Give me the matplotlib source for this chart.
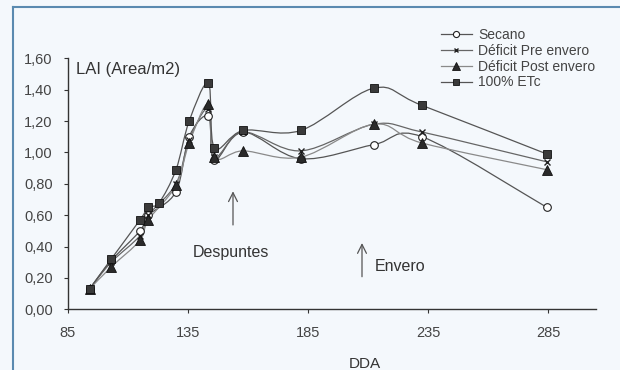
import matplotlib
matplotlib.use("Agg")
import matplotlib.pyplot as plt
from matplotlib.path import Path
from matplotlib.patches import PathPatch
from matplotlib.lines import Line2D
import numpy as np

plt.rcParams['font.family'] = ['Liberation Sans', 'DejaVu Sans']

# ---- data ----
dda = [94, 103, 115, 118.5, 123, 130, 135.5, 143.5, 146, 158, 182, 212.5, 232.5, 284.5]
secano = [0.13, 0.31, 0.50, 0.60, None, 0.75, 1.10, 1.23, 0.95, 1.13, 0.96, 1.05, 1.10, 0.65]
deficit_pre = [0.13, 0.30, 0.47, 0.60, None, 0.80, 1.08, 1.28, 0.97, 1.13, 1.01, 1.18, 1.13, 0.94]
deficit_post = [0.13, 0.27, 0.44, 0.57, None, 0.79, 1.06, 1.31, 0.97, 1.01, 0.97, 1.18, 1.06, 0.89]
etc100 = [0.13, 0.32, 0.57, 0.65, 0.68, 0.89, 1.20, 1.44, 1.03, 1.14, 1.14, 1.41, 1.30, 0.99]
series_names = ["Secano", "Déficit Pre envero", "Déficit Post envero", "100% ETc"]
x_ticks = [85, 135, 185, 235, 285]
y_ticks = [0.0, 0.2, 0.4, 0.6, 0.8, 1.0, 1.2, 1.4, 1.6]

BG = '#f4f8fc'
fig = plt.figure(figsize=(6.2, 3.7), dpi=100, facecolor=BG)
ax = fig.add_axes([68/620, 1-309.3/370, (596-68)/620, (309.3-58.3)/370])
ax.set_facecolor('none')


def smooth_path(xs, ys):
    pts = np.column_stack([xs, ys]).astype(float)
    n = len(pts)
    verts = [pts[0]]
    codes = [Path.MOVETO]
    for i in range(n - 1):
        p0 = pts[i - 1] if i > 0 else pts[i]
        p1 = pts[i]
        p2 = pts[i + 1]
        p3 = pts[i + 2] if i + 2 < n else pts[i + 1]
        c1 = p1 + (p2 - p0) / 6.0
        c2 = p2 - (p3 - p1) / 6.0
        verts += [c1, c2, p2]
        codes += [Path.CURVE4] * 3
    return Path(verts, codes)


styles = [
    dict(marker='o', mfc='white', mec='#222222', ms=5.5, color='#555555', mew=0.8),
    dict(marker='x', mfc='#222222', mec='#222222', ms=4, color='#666666', mew=1.0),
    dict(marker='^', mfc='#2a2a2a', mec='#111111', ms=6.5, color='#8a8a8a', mew=0.6),
    dict(marker='s', mfc='#3a3a3a', mec='#111111', ms=6, color='#555555', mew=0.6),
]

handles = []
for vals, name, st in zip([secano, deficit_pre, deficit_post, etc100], series_names, styles):
    xs = [x for x, v in zip(dda, vals) if v is not None]
    ys = [v for v in vals if v is not None]
    patch = PathPatch(smooth_path(xs, ys), fill=False, edgecolor=st['color'], lw=0.9, zorder=2)
    ax.add_patch(patch)
    ax.plot(xs, ys, ls='none', marker=st['marker'], mfc=st['mfc'], mec=st['mec'],
            ms=st['ms'], mew=st['mew'], zorder=3)
    handles.append(Line2D([], [], color=st['color'], lw=0.9, marker=st['marker'],
                          mfc=st['mfc'], mec=st['mec'], ms=st['ms'] * 0.8, mew=st['mew']))

ax.set_xlim(85, 305)
ax.set_ylim(0, 1.6)
ax.set_xticks(x_ticks)
ax.set_yticks(y_ticks)
ax.set_yticklabels([f"{v:.2f}".replace('.', ',') for v in y_ticks])
for s in ['top', 'right']:
    ax.spines[s].set_visible(False)
for s in ['left', 'bottom']:
    ax.spines[s].set_color('#333333')
    ax.spines[s].set_linewidth(1.0)
ax.tick_params(axis='both', direction='out', length=3, width=0.8, color='#333333',
               labelsize=10.5, labelcolor='#444444')
ax.tick_params(axis='x', pad=9)
ax.tick_params(axis='y', pad=8)

ax.text(0.015, 0.955, "LAI (Area/m2)", transform=ax.transAxes, fontsize=12,
        color='#333333', va='center', ha='left')

fig.text(365/620, 1-364/370, "DDA", fontsize=11, color='#333333', ha='center', va='center')

leg = fig.legend(handles, series_names, loc='upper left', bbox_to_anchor=(441/620, 1-28/370),
                 frameon=False, fontsize=10, handlelength=2.2, handletextpad=0.5,
                 labelspacing=0.13, borderpad=0, borderaxespad=0)
for t in leg.get_texts():
    t.set_color('#444444')

# annotations
ax.annotate("", xy=(153.75, 0.77), xytext=(153.75, 0.52),
            arrowprops=dict(arrowstyle='->', color='#555555', lw=0.9, mutation_scale=16))
ax.text(153, 0.365, "Despuntes", fontsize=11.5, color='#333333', ha='center', va='center')
ax.annotate("", xy=(207.5, 0.44), xytext=(207.5, 0.19),
            arrowprops=dict(arrowstyle='->', color='#555555', lw=0.9, mutation_scale=16))
ax.text(213, 0.275, "Envero", fontsize=11.5, color='#333333', ha='left', va='center')

# outer frame (left and top edges)
fig.add_artist(Line2D([13/620, 13/620], [0, 1-7/370], transform=fig.transFigure,
                      color='#5a8ab0', lw=1.5))
fig.add_artist(Line2D([13/620, 1], [1-7/370, 1-7/370], transform=fig.transFigure,
                      color='#5a8ab0', lw=1.5))

fig.savefig("out.png", dpi=100, facecolor=BG)
